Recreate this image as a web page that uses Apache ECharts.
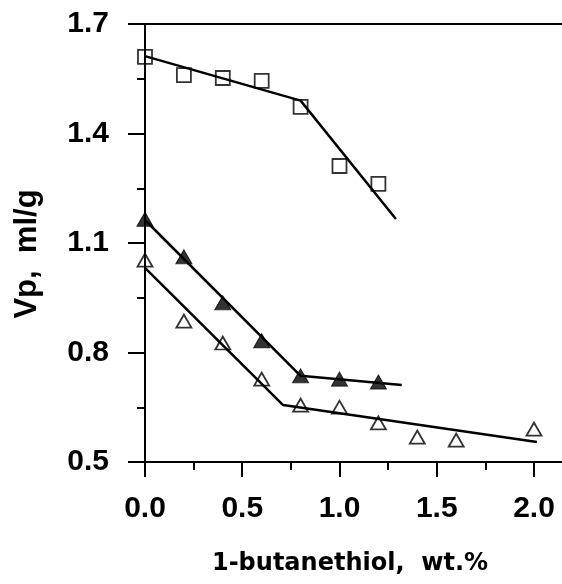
<!DOCTYPE html>
<html>
<head>
<meta charset="utf-8">
<script src="https://cdn.jsdelivr.net/npm/echarts@6/dist/echarts.min.js"></script>
<style>
html,body{margin:0;padding:0;background:#fff;}
#chart{width:562px;height:584px;}
</style>
</head>
<body>
<div id="chart"></div>
<script>
// ---- data ----
var sqX = [0, 0.2, 0.4, 0.6, 0.8, 1.0, 1.2];
var sqY = [1.61, 1.56, 1.552, 1.544, 1.473, 1.311, 1.262];
var filledX = [0, 0.2, 0.4, 0.6, 0.8, 1.0, 1.2];
var filledY = [1.165, 1.062, 0.936, 0.832, 0.736, 0.727, 0.719];
var openX = [0, 0.2, 0.4, 0.6, 0.8, 1.0, 1.2, 1.4, 1.6, 2.0];
var openY = [1.053, 0.886, 0.826, 0.727, 0.656, 0.650, 0.607, 0.568, 0.560, 0.590];
var sqFitX = [0, 0.8, 1.29];
var sqFitY = [1.612, 1.49, 1.166];
var filledFitX = [0, 0.8, 1.32];
var filledFitY = [1.163, 0.736, 0.711];
var openFitX = [0, 0.71, 2.015];
var openFitY = [1.032, 0.656, 0.555];
var xMajorTicks = [0, 0.5, 1.0, 1.5, 2.0];
var xMinorTicks = [0.25, 0.75, 1.25, 1.75];
var yMajorTicks = [0.5, 0.8, 1.1, 1.4, 1.7];
var yMinorTicks = [0.65, 0.95, 1.25, 1.55];
var xTitle = '1-butanethiol,  wt.%';
var yTitle = 'Vp,  ml/g';

function pairs(xs, ys){ return xs.map(function(x,i){ return [x, ys[i]]; }); }

var XMIN = -0.0771, XMAX = 2.144, YMIN = 0.5, YMAX = 1.7;
var tickFont = {fontFamily:'Liberation Sans, Arial, sans-serif', fontWeight:'bold', fontSize:30, color:'#000'};

var chart = echarts.init(document.getElementById('chart'), null, {renderer:'canvas'});
chart.setOption({
  animation:false,
  backgroundColor:'#fff',
  grid:{left:130, right:0, top:24, bottom:122, containLabel:false, outerBoundsMode:'none'},
  xAxis:[
    {type:'value', min:XMIN, max:XMAX, position:'bottom',
     axisLine:{show:true, onZero:false, lineStyle:{color:'#000', width:2}},
     axisTick:{show:true, customValues:xMajorTicks, length:15, lineStyle:{color:'#000', width:2}},
     axisLabel:Object.assign({show:true, customValues:xMajorTicks, margin:32,
       formatter:function(v){return v.toFixed(1);}}, tickFont),
     splitLine:{show:false}},
    {type:'value', min:XMIN, max:XMAX, position:'bottom',
     axisLine:{show:false, onZero:false},
     axisTick:{show:true, customValues:xMinorTicks, length:8, lineStyle:{color:'#000', width:2}},
     axisLabel:{show:false}, splitLine:{show:false}},
    {type:'value', min:XMIN, max:XMAX, position:'top',
     axisLine:{show:true, onZero:false, lineStyle:{color:'#000', width:2}},
     axisTick:{show:false}, axisLabel:{show:false}, splitLine:{show:false}}
  ],
  yAxis:[
    {type:'value', min:YMIN, max:YMAX,
     axisLine:{show:true, onZero:true, onZeroAxisIndex:0, lineStyle:{color:'#000', width:2}},
     axisTick:{show:true, customValues:yMajorTicks, length:17, lineStyle:{color:'#000', width:2}},
     axisLabel:Object.assign({show:true, customValues:yMajorTicks, margin:21,
       formatter:function(v){return v.toFixed(1);}}, tickFont),
     splitLine:{show:false}},
    {type:'value', min:YMIN, max:YMAX, position:'left', offset:-15,
     axisLine:{show:false, onZero:false},
     axisTick:{show:true, customValues:yMinorTicks, length:8, lineStyle:{color:'#000', width:2}},
     axisLabel:{show:false}, splitLine:{show:false}}
  ],
  graphic:[
    {type:'text', x:350, y:564,
     style:{text:xTitle, x:0, y:0, textAlign:'center', textVerticalAlign:'middle',
       fontFamily:'DejaVu Sans, sans-serif', fontWeight:'bold', fontSize:24, fill:'#000'}},
    {type:'text', x:27, y:254, rotation:Math.PI/2,
     style:{text:yTitle, x:0, y:0, textAlign:'center', textVerticalAlign:'middle',
       fontFamily:'Liberation Sans, Arial, sans-serif', fontWeight:'bold', fontSize:31, fill:'#000'}}
  ],
  series:[
    {type:'line', data:pairs(sqFitX, sqFitY), symbol:'none', lineStyle:{color:'#000', width:2.5}, z:2},
    {type:'line', data:pairs(filledFitX, filledFitY), symbol:'none', lineStyle:{color:'#000', width:2.5}, z:2},
    {type:'line', data:pairs(openFitX, openFitY), symbol:'none', lineStyle:{color:'#000', width:2.5}, z:2},
    {type:'scatter', data:pairs(sqX, sqY), symbol:'rect', symbolSize:14,
     itemStyle:{color:'rgba(255,255,255,0)', borderColor:'#000', borderWidth:1.8}, z:3},
    {type:'scatter', data:pairs(filledX, filledY), symbol:'triangle', symbolSize:[16,14],
     itemStyle:{color:'#000', borderColor:'#000', borderWidth:1}, z:3},
    {type:'scatter', data:pairs(openX, openY), symbol:'triangle', symbolSize:[15,13],
     itemStyle:{color:'rgba(255,255,255,0)', borderColor:'#000', borderWidth:1.8}, z:3}
  ]
});
</script>
</body>
</html>
